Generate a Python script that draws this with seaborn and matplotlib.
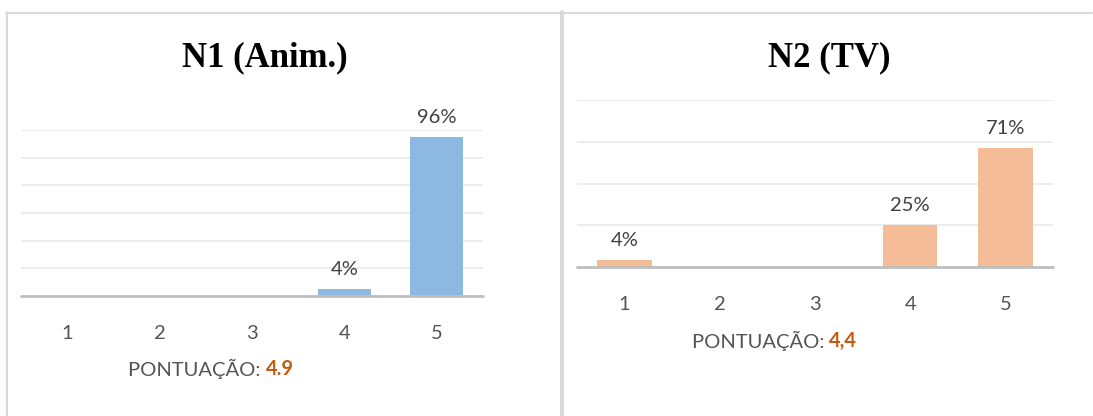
import numpy as np
import pandas as pd
import matplotlib.pyplot as plt
import seaborn as sns
from matplotlib.lines import Line2D

# dados
notas = ["1", "2", "3", "4", "5"]
n1_valores = [0, 0, 0, 4, 96]
n2_valores = [4, 0, 0, 25, 71]
n1_titulo = "N1 (Anim.)"
n2_titulo = "N2 (TV)"
n1_pontuacao = "4.9"
n2_pontuacao = "4,4"

sns.set_theme(style="white")
plt.rcParams["font.family"] = ["Lato", "DejaVu Sans"]

W, H = 1093, 416
fig = plt.figure(figsize=(W / 100, H / 100), dpi=100)

CINZA = "#555555"
LARANJA = "#C55A11"
TAM = 14.5


def eixo_px(x0, y0, x1, y1):
    return fig.add_axes([x0 / W, 1 - y1 / H, (x1 - x0) / W, (y1 - y0) / H])


def desenhar(ax, valores, cor, n_grades, pontuacao):
    df = pd.DataFrame({"nota": notas, "pct": valores})
    sns.barplot(data=df, x="nota", y="pct", color=cor, width=0.57,
                saturation=1, linewidth=0, ax=ax)
    ax.set_xlim(-0.5, len(notas) - 0.5)
    ax.set_ylim(0, 100)
    ax.set_yticks(np.linspace(0, 100, n_grades + 1))
    ax.set_yticklabels([])
    ax.tick_params(axis="y", length=0)
    ax.yaxis.grid(True, color="#EDEDED", lw=1.4)
    ax.set_axisbelow(True)
    for s in ax.spines.values():
        s.set_visible(False)
    ax.axhline(0, color="#BFBFBF", lw=2.0, clip_on=False, zorder=5)
    ax.tick_params(axis="x", length=0, pad=21, labelsize=TAM, labelcolor=CINZA)
    ax.set_xlabel("")
    ax.set_ylabel("")

    rotulos = [f"{v}%" if v > 0 else "" for v in valores]
    ax.bar_label(ax.containers[0], labels=rotulos, padding=8,
                 fontsize=TAM, color="#404040")

    # "PONTUAÇÃO: x" com a nota em laranja
    t1 = ax.text(0.5, -0.44, "PONTUAÇÃO: ", transform=ax.transAxes,
                 ha="right", va="center", fontsize=TAM, color=CINZA)
    t2 = ax.annotate(pontuacao, xy=(1, 0), xycoords=t1, ha="left", va="bottom",
                     fontsize=TAM, color=LARANJA, weight="bold")
    return t1, t2


ax1 = eixo_px(21, 130, 483, 296)
ax2 = eixo_px(577, 100, 1053, 267)

p1 = desenhar(ax1, n1_valores, "#8DB8E1", 6, n1_pontuacao)
p2 = desenhar(ax2, n2_valores, "#F5BD97", 4, n2_pontuacao)

# centralizar o texto de pontuação inteiro
fig.canvas.draw()
r = fig.canvas.get_renderer()
for ax, (t1, t2) in [(ax1, p1), (ax2, p2)]:
    w2 = t2.get_window_extent(r).width
    bb = ax.get_window_extent(r)
    t1.set_x(0.5 + (w2 / 2) / bb.width)

# títulos
fig.text(265 / W, 1 - 58 / H, n1_titulo, family="Liberation Serif",
         weight="bold", size=25, ha="center", va="center", color="black")
fig.text(829 / W, 1 - 58 / H, n2_titulo, family="Liberation Serif",
         weight="bold", size=25, ha="center", va="center", color="black")

# molduras dos painéis
borda = "#D9D9D9"
fig.add_artist(Line2D([6 / W, 1092 / W], [1 - 13 / H, 1 - 13 / H], color=borda, lw=1.5))
fig.add_artist(Line2D([7 / W, 7 / W], [1 - 12 / H, 0], color=borda, lw=1.5))
fig.add_artist(Line2D([562 / W, 562 / W], [1 - 12 / H, 0], color=borda, lw=2.9))

fig.savefig("out.png", dpi=100)
